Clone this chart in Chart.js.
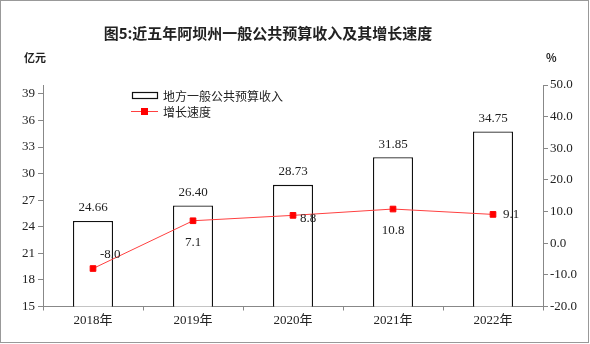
<!DOCTYPE html>
<html>
<head>
<meta charset="utf-8">
<script src="https://cdn.jsdelivr.net/npm/chart.js@4/dist/chart.umd.min.js"></script>
<style>
  html, body { margin: 0; padding: 0; background: #fff; }
  #wrap { width: 590px; height: 344px; position: relative; }
</style>
</head>
<body>
<div id="wrap"><canvas id="budgetChart"></canvas></div>
<script>
// 数据
const years = ['2018年', '2019年', '2020年', '2021年', '2022年'];
const revenue = [24.66, 26.40, 28.73, 31.85, 34.75];   // 亿元
const growth = [-8.0, 7.1, 8.8, 10.8, 9.1];             // %
const leftTicks = [15, 18, 21, 24, 27, 30, 33, 36, 39];
const rightTicks = [-20, -10, 0, 10, 20, 30, 40, 50];

const titleText = '图5:近五年阿坝州一般公共预算收入及其增长速度';
const numFont = '13px "Liberation Serif", "DejaVu Serif", serif';
const cjkFont = '"Noto Sans CJK SC", sans-serif';

// 增长速度标签相对数据点的偏移
const growthLabelPos = [
  { dx: 7, dy: -14, align: 'left' },
  { dx: 0, dy: 22, align: 'center' },
  { dx: 7, dy: 3, align: 'left' },
  { dx: 0, dy: 22, align: 'center' },
  { dx: 10, dy: 0, align: 'left' }
];

// 标题、单位、图例、数值标签和外框
const decorations = {
  id: 'decorations',
  afterDraw(chart) {
    const c = chart.ctx;
    c.save();
    c.fillStyle = '#222';
    c.textBaseline = 'middle';

    c.font = 'bold 15px ' + cjkFont;
    c.textAlign = 'center';
    c.fillText(titleText, 268, 33);

    c.font = 'bold 11px ' + cjkFont;
    c.textAlign = 'left';
    c.fillText('亿元', 24, 58);
    c.fillText('%', 546, 58);

    // 图例
    c.font = '12px ' + cjkFont;
    c.strokeStyle = '#111';
    c.lineWidth = 1.2;
    c.strokeRect(132.5, 92.5, 25, 6);
    c.fillText(chart.data.datasets[0].label, 163, 96);
    c.strokeStyle = '#ff4040';
    c.lineWidth = 1;
    c.beginPath();
    c.moveTo(131, 111.5);
    c.lineTo(158, 111.5);
    c.stroke();
    c.fillStyle = '#ff0000';
    c.fillRect(141, 108, 7, 7);
    c.fillStyle = '#222';
    c.fillText(chart.data.datasets[1].label, 163, 112);

    // 柱顶数值
    c.font = numFont;
    c.textAlign = 'center';
    chart.getDatasetMeta(0).data.forEach((bar, i) => {
      c.fillText(revenue[i].toFixed(2), bar.x, bar.y - 13);
    });

    // 增长速度数值
    chart.getDatasetMeta(1).data.forEach((pt, i) => {
      const p = growthLabelPos[i];
      c.textAlign = p.align;
      c.fillText(growth[i].toFixed(1), pt.x + p.dx, pt.y + p.dy);
    });

    // 外框
    c.strokeStyle = '#999';
    c.lineWidth = 1;
    c.strokeRect(0.5, 0.5, 588, 342);
    c.restore();
  }
};

const axisColor = '#888';
const tickFont = { family: '"Liberation Serif", serif', size: 13 };

new Chart(document.getElementById('budgetChart'), {
  data: {
    labels: years,
    datasets: [
      {
        type: 'bar',
        label: '地方一般公共预算收入',
        data: revenue,
        yAxisID: 'yLeft',
        backgroundColor: '#ffffff',
        borderColor: '#111',
        borderWidth: 1.3,
        barPercentage: 0.4,
        categoryPercentage: 1.0,
        order: 1
      },
      {
        type: 'line',
        label: '增长速度',
        data: growth,
        yAxisID: 'yRight',
        borderColor: '#ff4040',
        borderWidth: 1,
        pointStyle: 'rect',
        pointRadius: 4,
        pointBackgroundColor: '#ff0000',
        pointBorderColor: '#ff0000',
        tension: 0,
        order: 0
      }
    ]
  },
  options: {
    responsive: true,
    maintainAspectRatio: false,
    animation: false,
    layout: { padding: { top: 85, left: 0, right: 0, bottom: 0 } },
    plugins: {
      legend: { display: false },
      tooltip: { enabled: false }
    },
    scales: {
      x: {
        grid: { display: true, drawOnChartArea: false, tickLength: 4, color: axisColor, offset: true },
        border: { color: axisColor },
        ticks: { color: '#222', font: { family: '"Liberation Serif", "Noto Sans CJK SC", serif', size: 13 }, padding: 2 },
        afterFit(scale) { scale.height = 37.5; }
      },
      yLeft: {
        position: 'left',
        min: 15,
        max: 40,
        afterBuildTicks(scale) { scale.ticks = leftTicks.map(v => ({ value: v })); },
        grid: { drawOnChartArea: false, tickLength: 5, color: axisColor },
        border: { color: axisColor },
        ticks: { color: '#222', font: tickFont, padding: 3 },
        afterFit(scale) { scale.width = 43; }
      },
      yRight: {
        position: 'right',
        min: -20,
        max: 50,
        afterBuildTicks(scale) { scale.ticks = rightTicks.map(v => ({ value: v })); },
        grid: { drawOnChartArea: false, tickLength: 5, color: axisColor },
        border: { color: axisColor },
        ticks: {
          color: '#222',
          font: tickFont,
          padding: 2,
          callback: v => Number(v).toFixed(1)
        },
        afterFit(scale) { scale.width = 47; }
      }
    }
  },
  plugins: [decorations]
});
</script>
</body>
</html>
